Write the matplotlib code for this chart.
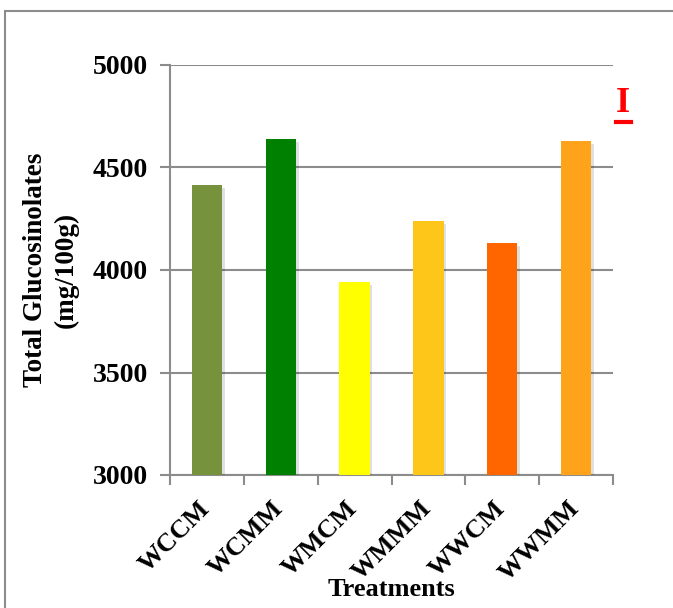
import matplotlib
matplotlib.use('Agg')
import matplotlib.pyplot as plt
import matplotlib.patheffects as pe
import matplotlib.transforms as mtrans
from matplotlib.patches import Rectangle

# Data
treatments = ['WCCM', 'WCMM', 'WMCM', 'WMMM', 'WWCM', 'WWMM']
glucosinolates = [4414, 4639, 3942, 4240, 4133, 4630]
bar_colors = ['#76923C', '#008000', '#FFFF00', '#FFC61A', '#FF6600', '#FFA31A']

plt.rcParams['font.family'] = ['Liberation Serif', 'DejaVu Serif']
plt.rcParams['font.weight'] = 'bold'

W, H = 673, 608
fig = plt.figure(figsize=(W / 100, H / 100), dpi=100)

# gray frame around the chart
fig.patches.append(Rectangle((5 / W, -0.1), 1.2, 1 - 11 / H + 0.1,
                             transform=fig.transFigure, fill=False,
                             edgecolor='#8c8c8c', linewidth=1.5))

ax = fig.add_axes([170 / W, 1 - 475 / H, (613 - 170) / W, (475 - 65) / H])

x = range(len(treatments))
bars = ax.bar(x, glucosinolates, width=0.41, color=bar_colors, zorder=3)
for b in bars:
    b.set_path_effects([pe.SimplePatchShadow(offset=(2, -2), shadow_rgbFace='#000000', alpha=0.12),
                        pe.Normal()])

ax.set_ylim(3000, 5000)
ax.set_xlim(-0.5, len(treatments) - 0.5)
ax.set_yticks([3000, 3500, 4000, 4500, 5000])
ax.yaxis.grid(True, color='#8c8c8c', linewidth=1.5, zorder=0)

# tick marks sit between the categories, labels are drawn as rotated text
ax.set_xticks([i - 0.5 for i in range(len(treatments) + 1)])
ax.set_xticklabels([])
ax.tick_params(axis='x', length=7, width=1.5, color='#8c8c8c')
lab_trans = mtrans.blended_transform_factory(ax.transData, ax.transAxes) + \
    mtrans.ScaledTranslation(-9 / 100, -22 / 100, fig.dpi_scale_trans)
for i, name in enumerate(treatments):
    ax.text(i, 0, name, transform=lab_trans, rotation=45, ha='right', va='top',
            rotation_mode='anchor', fontsize=19, fontweight='bold')

ax.tick_params(axis='y', length=7, width=1.5, color='#8c8c8c', labelsize=20, pad=9)
for t in ax.get_yticklabels():
    t.set_fontweight('bold')

for side in ['top', 'right']:
    ax.spines[side].set_visible(False)
for side in ['left', 'bottom']:
    ax.spines[side].set_color('#8c8c8c')
    ax.spines[side].set_linewidth(1.5)

ax.set_ylabel('Total Glucosinolates\n(mg/100g)', fontsize=19.5, fontweight='bold',
              linespacing=1.28, labelpad=10)
ax.set_xlabel('Treatments', fontsize=19, fontweight='bold')
ax.xaxis.set_label_coords(0.5, -(590 - 475) / 410, transform=ax.transAxes)
ax.xaxis.label.set_va('center')

fig.text(623 / W, 1 - 103 / H, 'I', color='red', fontsize=26, fontweight='bold',
         ha='center', va='center')
fig.add_artist(plt.Line2D([616 / W, 631 / W], [1 - 122 / H, 1 - 122 / H],
                          color='red', linewidth=3, transform=fig.transFigure))

fig.savefig('out.png', dpi=100)
